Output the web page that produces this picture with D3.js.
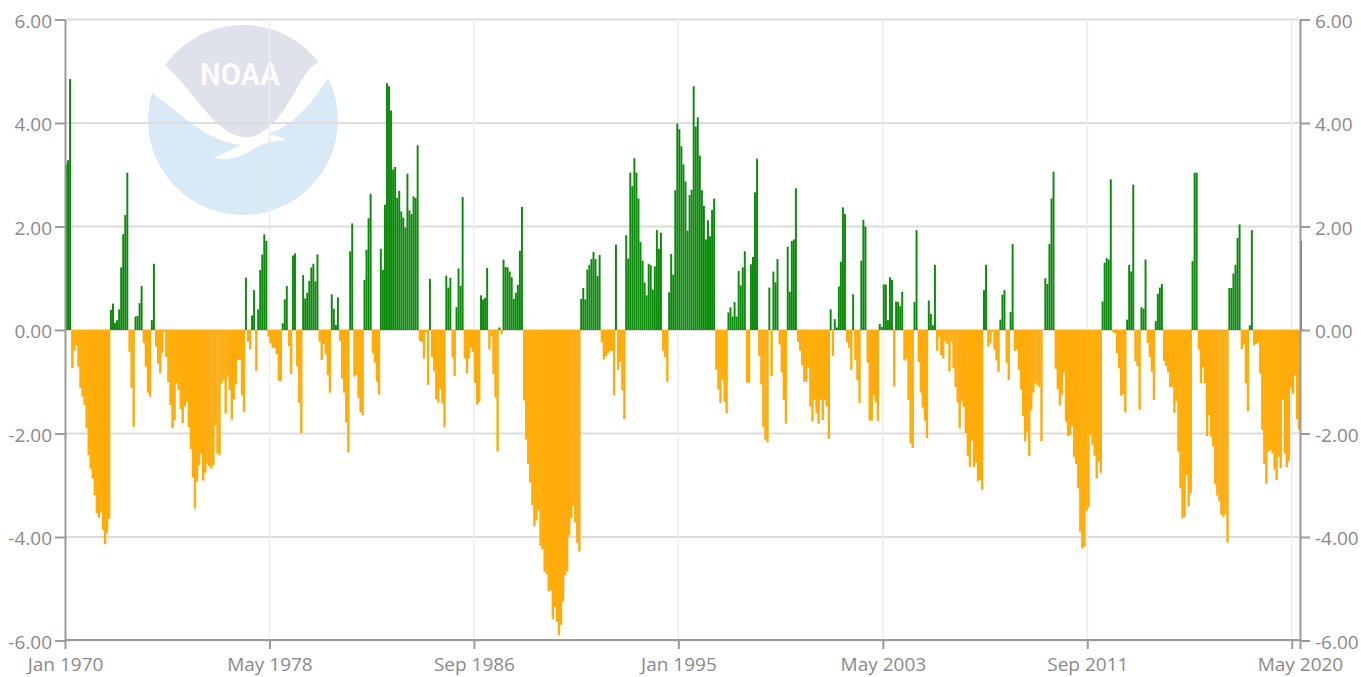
<!DOCTYPE html>
<html><head><meta charset="utf-8">
<script src="https://cdn.jsdelivr.net/npm/d3@7/dist/d3.min.js"></script>
<style>html,body{margin:0;padding:0;background:#fff;overflow:hidden}svg{display:block}</style>
</head><body><svg id="c" width="1361" height="677"></svg>
<script>
const tickIndex=[0,100,200,300,400,500,600,604];
const tickLabels=["Jan 1970","May 1978","Sep 1986","Jan 1995","May 2003","Sep 2011","","May 2020"];
const yTicks=[-6,-4,-2,0,2,4,6];
const values1970s=[3.2,3.28,4.85,-.74,-.4,-.31,-.71,-1.12,-1.29,-1.45,-1.9,-2.42,-2.68,-2.87,-3.19,-3.54,-3.63,-3.52,-3.86,-4.14,-3.92,-3.65,.39,.51,.14,.19,.4,1.21,1.85,2.22,3.04,-.42,-1.12,-1.87,.26,.27,.52,.85,-.25,-.71,-1.21,-1.29,.19,1.28,-.32,-.65,-.84,-.44,-.03,-.52,-1.01,-1.45,-1.9,-1.75,-1.03,-1.16,-1.53,-1.8,-1.48,-1.39,-1.88,-2.3,-2.85,-3.45,-2.93,-2.61,-2.39,-2.91,-2.76,-2.58,-2.63,-2.68,-2.61,-1.84,-2.39,-2.42,-1.03,-.97,-1.61,-.9,-1.16,-1.73,-1.34,-1.05,-.58,-.58,-1.26,-1.58,1.01,-.23,-.37,.28,.77,-.79,.4,1.16,1.46,1.85,1.72];
const values1978=[-.13,-.26,-.34,-.35,-.47,-.98,-.99,.13,.59,.85,-.31,-.85,1.44,1.48,-.7,-1.41,-1.99,1.06,.61,.72,.95,1.21,1.28,.94,1.46,-.23,-.58,-.27,-.47,-.87,-1.21,.69,.41,.1,.63,-.21,-.94,-1.21,-1.79,-2.37,1.52,2.06,-.9,-.87,-1.31,-1.59,-1.65,.97,1.55,2.16,2.63,-.45,-.63,-1,-1.25,1.57,1.16,2.42,4.77,4.71,4.24,3.1,3.15,2.55,2.69,2.29,2.17,1.98,3.02,2.31,2.24,2.58,2.55,3.57,-.21,-.23,-.55,-.04,-1.06,.99,-.52,-.79,-1.34,-1.4,-1.15,-1.42,-1.88,1.05,.82,1.01,-.53,-.89,.44,1.19,.85,2.57,-.55,-.84,-.55,-.34,-.42,-1.02,-1.44,-1.39];
const values1986=[.67,.59,.62,1.2,-.38,-.12,-.86,-1.3,-2.35,.05,-.08,1.36,1.22,1.21,1.13,1.02,.6,.72,.87,1.53,2.38,-1.36,-2.12,-2.59,-2.95,-3.38,-3.79,-3.68,-3.48,-4.17,-4.24,-4.67,-4.72,-5.05,-5.03,-5.59,-5.35,-5.64,-5.9,-5.7,-5.25,-4.74,-4.67,-3.97,-3.64,-3.4,-3.72,-4.11,-4.28,.6,.81,.59,1.17,1.26,1.37,1.51,1.37,1.04,1.45,-.24,-.57,-.51,-.45,-.4,-.4,-1.26,1.65,-.77,-.61,-1.17,-1.72,1.83,1.38,3.04,2.78,3.32,3.04,2.54,1.7,1.34,.92,.67,1.28,1.25,.78,1.23,1.93,1.57,1.88,-.4,-.52,-1,.73,1.47,1.07,2.7];
const values1995=[3.99,3.88,3.55,3.2,2.87,1.92,2.61,2.71,4.71,3.93,4.11,3.37,2.7,2.4,1.75,2.12,1.81,2.32,2.54,-.77,-1.15,-1.41,-.97,-1.39,-1.61,.34,.44,.26,.54,.26,1.14,.86,1.21,1.52,-1.01,-1.02,1.27,1.41,2.66,3.31,-.5,-1.05,-1.88,-2.12,-2.17,.82,-.89,1.13,.92,1.37,-.28,-.82,-1.35,-1.81,1.61,.74,1.72,1.75,2.74,-.23,-.4,-.68,-1,-1,-.73,-1.48,-1.77,-1.35,-1.61,-1.81,-1.35,-1.74,-1.35,-1.48,-2.1,.4,-.5,.21,.05,.84,1.32,2.37,2.24,-.23,-.35,-.77,.69,-.58,-.97,-1.41,1.34,2.13,2,-.63,-1.75,-1.75,-1.26,-1.4,-1.76];
const values2003=[.12,.06,.88,.88,.19,1.02,.97,-1.09,.55,.54,.46,.74,-.59,-.56,-1.35,-2.19,-2.28,.54,1.93,-.62,-1.21,-1.5,-1.75,-2.09,.57,.31,.09,1.26,-.4,-.14,-.49,-.55,-.22,-.27,-.8,-.24,-.74,-1.1,-1.4,-1.9,-1.38,-1.49,-1.99,-2.43,-2.64,-2.14,-2.65,-2.56,-2.92,-2.9,-3.09,.77,1.26,-.32,-.26,-.03,-.38,-.59,-.81,.2,.68,.77,-.64,-.97,.35,1.66,-.41,-.38,-.77,-1.15,-1.66,-2.15,-1.96,-2.43,-1.55,-1.21,-1.03,-1.06,-1.1,-2.15,0,1,.89,1.66,2.54,3.06,-.75,-1.14,-1.46,-1.25,-.82,-1.77,-2.05,-2.03,-1.86,-2.45,-2.59,-3.06,-3.9,-4.22,-4.19,-3.49,-3.43,-2.03,-2.22,-2.43];
const values2011=[-2.87,-2.55,-2.76,.55,1.3,1.39,1.36,2.91,-.04,-.06,-.45,-.74,-1.27,-1.24,-1.59,.2,1.26,1.13,2.81,-.6,-.7,-1.54,.44,.41,1.36,-.25,-.52,-.81,-1.35,.17,.7,.82,.89,-.6,-.7,-.82,-1.1,-1.1,-1.6,-1.38,-2.35,-3.06,-3.64,-3.61,-2.8,-3.41,-3.15,1.33,3.04,3.04,-.38,-1.03,-.72,-1.03,-2.05,-1.64,-2.06,-2.25,-2.98,-3.2,-3.3,-3.57,-3.61,-3.55,-4.11,.81,.81,1.09,1.26,1.78,2.04,-.37,-.28,-1.03,-1.57,.09,1.93,-.3,-.27,-.25,-.84,-1.93,-2.59,-2.97,-2.35,-2.32,-2.39,-2.7,-2.9,-2.45,-2.67,-1.35,-2.39,-2.65,-2.54,-1.11,-1.23,-.88,-1.72,-1.93,1.72];
const values=[...values1970s,...values1978,...values1986,...values1995,...values2003,...values2011];
const colorUp="#0b8a0b",colorDown="#ffab0a",gridH="#dcdcdc",gridV="#ececec",axisC="#9a9a9a",textC="#8a8a8a";

const svg=d3.select("#c");
const x=d3.scaleLinear().domain([0,values.length]).range([65,1302]);
const y=d3.scaleLinear().domain([-6,6]).range([640.5,19.5]);

// NOAA logo
const logo=svg.append("g");
logo.append("clipPath").attr("id","lc").append("circle").attr("cx",243).attr("cy",120).attr("r",95);
const lg=logo.append("g").attr("clip-path","url(#lc)");
lg.append("rect").attr("x",140).attr("y",20).attr("width",210).attr("height",200).attr("fill","#d9eaf6");
lg.append("path").attr("fill","#fff").attr("d","M140,15L345,15L345,70L328,78C312,102 297,124 268,134L283,138L285,140C270,141 262,144 252,150C240,158 228,161 213,158C222,154 232,150 241,145C205,141 180,112 152,93L140,85Z");
lg.append("path").attr("fill","#dfe2ea").attr("d","M165,65L165,20L318,20L318,62C300,72 292,108 268,128C258,136 250,138 243,137C215,134 195,92 165,65Z");
logo.append("text").attr("x",200).attr("y",85).attr("textLength",80).attr("lengthAdjust","spacingAndGlyphs").attr("font-family","Roboto").attr("font-weight","bold").attr("font-size",31).attr("fill","#fff").attr("fill-opacity",.9).text("NOAA");

// grid
svg.append("g").selectAll("line").data(yTicks).join("line").attr("x1",65).attr("x2",1300).attr("y1",d=>y(d)).attr("y2",d=>y(d)).attr("stroke",gridH).attr("stroke-width",2);
svg.append("g").selectAll("line").data(tickIndex.slice(1)).join("line").attr("x1",d=>x(d)).attr("x2",d=>x(d)).attr("y1",19).attr("y2",640).attr("stroke",gridV).attr("stroke-width",1.5);

// bars
svg.append("g").selectAll("rect").data(values).join("rect")
 .attr("x",(d,i)=>x(i)).attr("width",d=>x(1)-x(0)+(d<0?0.35:-0.1))
 .attr("y",d=>y(Math.max(d,0))).attr("height",d=>Math.abs(y(d)-y(0)))
 .attr("fill",d=>d>=0?colorUp:colorDown);

// axes
const fmt=d=>d3.format(".2f")(d).replace("\u2212","-");
function style(g){g.selectAll("path.domain").attr("stroke",axisC).attr("stroke-width",2);
 g.selectAll(".tick line").attr("stroke",axisC).attr("stroke-width",2);
 g.selectAll("text").attr("fill",textC).attr("font-family","'Open Sans'").attr("font-size",19);}
const left=d3.axisLeft(y).tickValues(yTicks).tickFormat(fmt).tickSize(10).tickSizeOuter(0).tickPadding(3);
svg.append("g").attr("transform","translate(65,0)").call(left).call(style).selectAll("text").attr("dy","0.42em");
const right=d3.axisRight(y).tickValues(yTicks).tickFormat(fmt).tickSize(10).tickSizeOuter(0).tickPadding(5);
svg.append("g").attr("transform","translate(1300,0)").call(right).call(style).selectAll("text").attr("dy","0.42em");
const bottom=d3.axisBottom(x).tickValues(tickIndex).tickFormat((d,i)=>tickLabels[i]).tickSize(9).tickSizeOuter(0).tickPadding(9);
const gb=svg.append("g").attr("transform","translate(0,640)").call(bottom).call(style);
gb.select("path.domain").attr("d","M65,0H1300");
</script></body></html>
